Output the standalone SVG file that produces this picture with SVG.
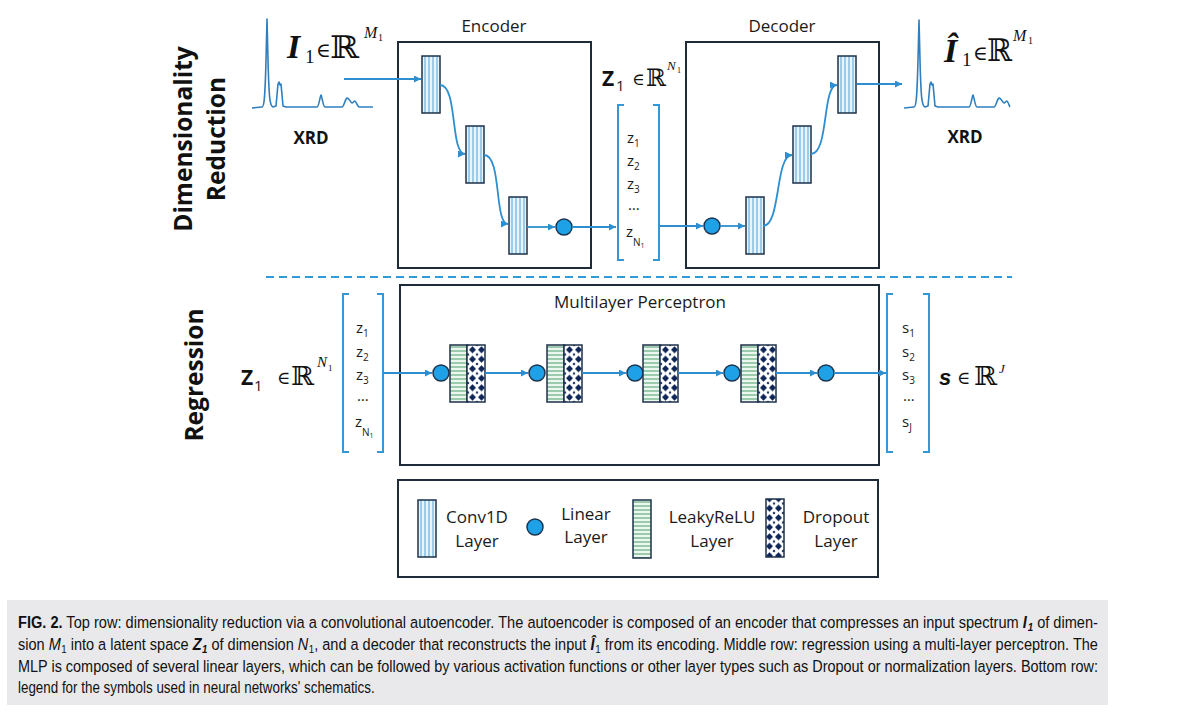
<svg xmlns="http://www.w3.org/2000/svg" xmlns:xlink="http://www.w3.org/1999/xlink" width="1200" height="714" viewBox="0 0 1200 714">
<style>
.box{fill:none;stroke:#1e2b38;stroke-width:2}
.lbl{font-family:"Open Sans","Liberation Sans",sans-serif;font-size:17px;fill:#1a1a1a;text-anchor:middle}
.bold{font-family:"Open Sans","Liberation Sans",sans-serif;font-weight:bold;fill:#111}
.vec{font-family:"Open Sans","Liberation Sans",sans-serif;font-size:15px;fill:#1a1a1a}
.conn{fill:none;stroke:#2d8fcf;stroke-width:1.8}
.brk{fill:none;stroke:#3597d6;stroke-width:2}
.lin{fill:#1ea1e6;stroke:#1c3550;stroke-width:1.5}
.spec{fill:none;stroke:#2f7fbf;stroke-width:1.6;stroke-linejoin:round}
.ser{font-family:"Liberation Serif","DejaVu Serif",serif;fill:#111}
.dj{font-family:"DejaVu Serif",serif;fill:#111}
.cap{font-family:"Liberation Sans",Arial,sans-serif;font-size:16.5px;fill:#111}
</style>
<defs>
<marker id="ah" markerUnits="userSpaceOnUse" markerWidth="8" markerHeight="8" refX="7" refY="3.5" orient="auto"><path d="M0,0 L7,3.5 L0,7 z" fill="#2d8fcf"/></marker>
<pattern id="pConv" patternUnits="userSpaceOnUse" width="4" height="4"><rect width="4" height="4" fill="#e8f5fc"/><line x1="3" y1="0" x2="3" y2="4" stroke="#4ea6d8" stroke-width="1"/></pattern>
<pattern id="pLeaky" patternUnits="userSpaceOnUse" width="4" height="4"><rect width="4" height="4" fill="#ecf7ef"/><line x1="0" y1="2" x2="4" y2="2" stroke="#4c9e6a" stroke-width="1"/></pattern>
<pattern id="pDrop" patternUnits="userSpaceOnUse" width="9" height="9.5"><rect width="9" height="9.5" fill="#ffffff"/><path d="M4.5,1.2 L8,4.75 L4.5,8.3 L1,4.75 z" fill="#0f2557"/><path d="M0,-1.5 L1.5,0 L0,1.5 z M9,-1.5 L7.5,0 L9,1.5 z M0,8 L1.5,9.5 L0,11 z M9,8 L7.5,9.5 L9,11 z" fill="#0f2557"/></pattern>
<g id="conv"><rect x="0" y="0" width="18" height="57" fill="url(#pConv)" stroke="#1d3149" stroke-width="1.5"/></g>
<g id="mlpb"><rect x="0" y="0" width="17" height="57" fill="url(#pLeaky)" stroke="#1d3149" stroke-width="1.5"/><rect x="17" y="0" width="18" height="57" fill="url(#pDrop)" stroke="#1d3149" stroke-width="1.5"/></g>
</defs>
<rect width="1200" height="714" fill="#ffffff"/>

<g id="row-labels">
<text class="bold" font-size="24.5" text-anchor="middle" transform="translate(192,139) rotate(-90)">Dimensionality</text>
<text class="bold" font-size="24.5" text-anchor="middle" transform="translate(225,139) rotate(-90)">Reduction</text>
<text class="bold" font-size="24.5" text-anchor="middle" transform="translate(203,375) rotate(-90)">Regression</text>
</g>

<g id="separator"><line x1="266" y1="277" x2="1012" y2="277" stroke="#2f9bd8" stroke-width="2" stroke-dasharray="8 5"/></g>

<g id="input-xrd">
<path class="spec" d="M252,108 L262,107 C264,107 265,100 266,60 L267,19 L268,60 C269,100 270,106 273,107 L276,106 L278,84 L279,82 L280,85 L281,84 L282,95 L283,106 L286,107 L317,107 C319,107 320,96 321,95 C322,96 323,107 325,107 L342,107 C344,107 345,99 347,98 C349,98 351,103 352,103 C353,103 354,101 355,101 C356,101 357,106 359,107 L373,107"/>
<text class="bold" font-size="17" x="311" y="144" text-anchor="middle">XRD</text>
<text class="ser" font-size="34" font-weight="bold" font-style="italic" x="287" y="58">I</text>
<text class="ser" font-size="19" x="305" y="63">1</text>
<text class="dj" font-size="20" x="316" y="57">∈</text>
<text class="dj" font-size="31" x="330" y="58" textLength="29" lengthAdjust="spacingAndGlyphs">ℝ</text>
<text class="ser" font-size="16" font-style="italic" x="364" y="38">M</text>
<text class="ser" font-size="10" x="378" y="41">1</text>
</g>

<g id="encoder">
<rect class="box" x="398" y="42" width="193" height="226"/>
<text class="lbl" x="494" y="32">Encoder</text>
<use xlink:href="#conv" x="422" y="56"/>
<use xlink:href="#conv" x="466" y="126"/>
<use xlink:href="#conv" x="509" y="197"/>
<circle class="lin" cx="564" cy="227" r="8"/>
</g>

<g id="latent-top">
<text class="bold" font-size="21" x="602" y="86">Z</text>
<text class="vec" font-size="13" x="616" y="91">1</text>
<text class="dj" font-size="17" x="632" y="85">∈</text>
<text class="dj" font-size="24" x="646" y="86" textLength="20" lengthAdjust="spacingAndGlyphs">ℝ</text>
<text class="ser" font-size="13" font-style="italic" x="667" y="70">N</text>
<text class="ser" font-size="8" x="677" y="73">1</text>
<path class="brk" d="M624,105 L618,105 L618,260 L624,260"/>
<path class="brk" d="M653,105 L659,105 L659,260 L653,260"/>
<text class="vec" x="627" y="143">z<tspan font-size="10" dy="4">1</tspan></text>
<text class="vec" x="627" y="166">z<tspan font-size="10" dy="4">2</tspan></text>
<text class="vec" x="627" y="189">z<tspan font-size="10" dy="4">3</tspan></text>
<text class="vec" x="628" y="210">…</text>
<text class="vec" x="626" y="237">z<tspan font-size="10" dy="9">N</tspan><tspan font-size="7" dy="2">1</tspan></text>
</g>

<g id="decoder">
<rect class="box" x="686" y="42" width="193" height="226"/>
<text class="lbl" x="782" y="32">Decoder</text>
<circle class="lin" cx="712" cy="226" r="8"/>
<use xlink:href="#conv" x="746" y="197"/>
<use xlink:href="#conv" x="793" y="126"/>
<use xlink:href="#conv" x="838" y="56"/>
</g>

<g id="output-xrd">
<path class="spec" d="M904,108 L914,107 C916,107 917,100 918,60 L919,20 L920,60 C921,100 922,106 925,107 L928,106 L930,84 L931,82 L932,85 L933,84 L934,95 L935,106 L938,107 L969,107 C971,107 972,96 973,95 C974,96 975,107 977,107 L994,107 C996,107 997,99 999,98 C1001,98 1003,103 1004,103 C1005,103 1006,101 1007,101 C1008,101 1009,106 1010,107"/>
<text class="bold" font-size="17" x="965" y="143" text-anchor="middle">XRD</text>
<text class="ser" font-size="34" font-weight="bold" font-style="italic" x="944" y="62">Î</text>
<text class="ser" font-size="19" x="962" y="66">1</text>
<text class="dj" font-size="20" x="973" y="60">∈</text>
<text class="dj" font-size="31" x="987" y="61" textLength="25" lengthAdjust="spacingAndGlyphs">ℝ</text>
<text class="ser" font-size="16" font-style="italic" x="1013" y="41">M</text>
<text class="ser" font-size="10" x="1028" y="44">1</text>
</g>

<g id="latent-mlp">
<text class="bold" font-size="21" x="241" y="385">Z</text>
<text class="vec" font-size="15" x="254" y="391">1</text>
<text class="dj" font-size="18" x="277" y="384">∈</text>
<text class="dj" font-size="26" x="291" y="385" textLength="23" lengthAdjust="spacingAndGlyphs">ℝ</text>
<text class="ser" font-size="15" font-style="italic" x="317" y="367">N</text>
<text class="ser" font-size="9" x="328" y="371">1</text>
<path class="brk" d="M349,294 L343,294 L343,452 L349,452"/>
<path class="brk" d="M377,294 L383,294 L383,452 L377,452"/>
<text class="vec" x="356" y="333">z<tspan font-size="10" dy="4">1</tspan></text>
<text class="vec" x="356" y="357">z<tspan font-size="10" dy="4">2</tspan></text>
<text class="vec" x="356" y="380">z<tspan font-size="10" dy="4">3</tspan></text>
<text class="vec" x="357" y="401">…</text>
<text class="vec" x="355" y="427">z<tspan font-size="10" dy="9">N</tspan><tspan font-size="7" dy="2">1</tspan></text>
</g>

<g id="mlp">
<rect class="box" x="400" y="285" width="479" height="180"/>
<text class="lbl" x="640" y="308">Multilayer Perceptron</text>
<circle class="lin" cx="441" cy="373" r="8"/>
<use xlink:href="#mlpb" x="450" y="345"/>
<circle class="lin" cx="537" cy="373" r="8"/>
<use xlink:href="#mlpb" x="547" y="345"/>
<circle class="lin" cx="635" cy="373" r="8"/>
<use xlink:href="#mlpb" x="643" y="345"/>
<circle class="lin" cx="732" cy="373" r="8"/>
<use xlink:href="#mlpb" x="741" y="345"/>
<circle class="lin" cx="826" cy="373" r="8"/>
</g>

<g id="output-s">
<path class="brk" d="M893,294 L887,294 L887,452 L893,452"/>
<path class="brk" d="M923,294 L929,294 L929,452 L923,452"/>
<text class="vec" x="902" y="333">s<tspan font-size="10" dy="4">1</tspan></text>
<text class="vec" x="902" y="357">s<tspan font-size="10" dy="4">2</tspan></text>
<text class="vec" x="902" y="380">s<tspan font-size="10" dy="4">3</tspan></text>
<text class="vec" x="903" y="401">…</text>
<text class="vec" x="902" y="427">s<tspan font-size="10" dy="4">J</tspan></text>
<text font-family="Liberation Sans,sans-serif" font-weight="bold" font-style="italic" font-size="22" fill="#111" x="939" y="385">s</text>
<text class="dj" font-size="18" x="957" y="384">∈</text>
<text class="dj" font-size="26" x="974" y="385" textLength="23" lengthAdjust="spacingAndGlyphs">ℝ</text>
<text class="ser" font-size="13" font-style="italic" x="999" y="373">J</text>
</g>

<g id="connectors">
<line class="conn" x1="344" y1="79" x2="421" y2="79" marker-end="url(#ah)"/>
<path class="conn" d="M440,85 C458,85 450,154 465,154" marker-end="url(#ah)"/>
<path class="conn" d="M484,155 C502,155 494,224 508,224" marker-end="url(#ah)"/>
<line class="conn" x1="527" y1="227" x2="555" y2="227" marker-end="url(#ah)"/>
<line class="conn" x1="572" y1="227" x2="616" y2="227" marker-end="url(#ah)"/>
<line class="conn" x1="659" y1="226" x2="703" y2="226" marker-end="url(#ah)"/>
<line class="conn" x1="720" y1="226" x2="745" y2="226" marker-end="url(#ah)"/>
<path class="conn" d="M763,226 C781,226 775,155 792,155" marker-end="url(#ah)"/>
<path class="conn" d="M811,154 C829,154 822,85 837,85" marker-end="url(#ah)"/>
<line class="conn" x1="857" y1="84" x2="902" y2="84" marker-end="url(#ah)"/>
<line class="conn" x1="383" y1="373" x2="432" y2="373" marker-end="url(#ah)"/>
<line class="conn" x1="485" y1="373" x2="528" y2="373" marker-end="url(#ah)"/>
<line class="conn" x1="582" y1="373" x2="626" y2="373" marker-end="url(#ah)"/>
<line class="conn" x1="678" y1="373" x2="723" y2="373" marker-end="url(#ah)"/>
<line class="conn" x1="776" y1="373" x2="817" y2="373" marker-end="url(#ah)"/>
<line class="conn" x1="834" y1="373" x2="886" y2="373" marker-end="url(#ah)"/>
</g>

<g id="legend">
<rect class="box" x="398" y="480" width="480" height="97"/>
<use xlink:href="#conv" x="418" y="500"/>
<text class="lbl" x="477" y="523">Conv1D</text>
<text class="lbl" x="477" y="547">Layer</text>
<circle class="lin" cx="535" cy="527" r="8"/>
<text class="lbl" x="586" y="520">Linear</text>
<text class="lbl" x="586" y="543">Layer</text>
<rect x="633" y="500" width="18" height="58" fill="url(#pLeaky)" stroke="#1d3149" stroke-width="1.5"/>
<text class="lbl" x="712" y="523">LeakyReLU</text>
<text class="lbl" x="712" y="547">Layer</text>
<rect x="766" y="499" width="18" height="58" fill="url(#pDrop)" stroke="#1d3149" stroke-width="1.5"/>
<text class="lbl" x="836" y="523">Dropout</text>
<text class="lbl" x="836" y="547">Layer</text>
</g>

<g id="caption">
<rect x="7" y="600" width="1101" height="105" fill="#e9e9eb"/>
<g transform="scale(0.82,1)">
<text class="cap" x="21.95" y="628" textLength="1317" lengthAdjust="spacingAndGlyphs"><tspan font-weight="bold">FIG. 2.</tspan> Top row: dimensionality reduction via a convolutional autoencoder. The autoencoder is composed of an encoder that compresses an input spectrum <tspan font-weight="bold" font-style="italic">I</tspan><tspan font-weight="bold" font-style="italic" font-size="11" dx="1" dy="3">1</tspan><tspan dy="-3"> of dimen-</tspan></text>
<text class="cap" x="21.95" y="650" textLength="1317" lengthAdjust="spacingAndGlyphs">sion <tspan font-style="italic">M</tspan><tspan font-size="11" dx="0.5" dy="3">1</tspan><tspan dy="-3"> into a latent space </tspan><tspan font-weight="bold" font-style="italic">Z</tspan><tspan font-weight="bold" font-style="italic" font-size="11" dx="0.5" dy="3">1</tspan><tspan dy="-3"> of dimension </tspan><tspan font-style="italic">N</tspan><tspan font-size="11" dx="0.5" dy="3">1</tspan><tspan dy="-3">, and a decoder that reconstructs the input </tspan><tspan font-weight="bold" font-style="italic">Î</tspan><tspan font-size="11" dx="1" dy="3">1</tspan><tspan dy="-3"> from its encoding. Middle row: regression using a multi-layer perceptron. The</tspan></text>
<text class="cap" x="21.95" y="672" textLength="1317" lengthAdjust="spacingAndGlyphs">MLP is composed of several linear layers, which can be followed by various activation functions or other layer types such as Dropout or normalization layers. Bottom row:</text>
<text class="cap" x="21.95" y="693" textLength="435" lengthAdjust="spacingAndGlyphs">legend for the symbols used in neural networks' schematics.</text>
</g>
</g>
</svg>
